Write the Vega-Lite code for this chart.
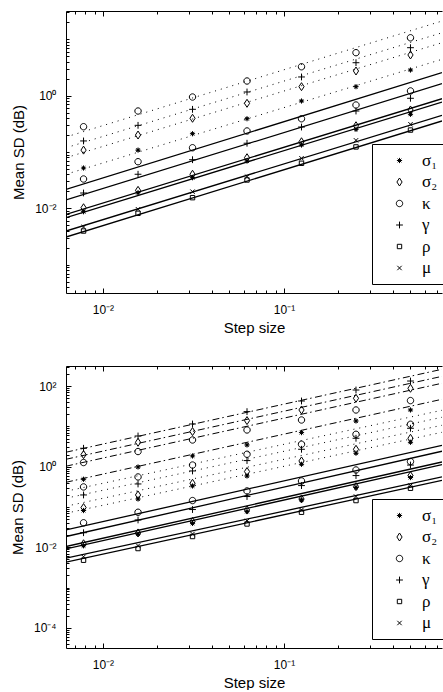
{
"$schema": "https://vega.github.io/schema/vega-lite/v6.json",
"padding": {"left": 10, "top": 6, "right": 0, "bottom": 0},
"background": "white",
"spacing": 25,
"config": {
  "view": {"stroke": null},
  "axis": {"grid": false, "domainColor": "black", "domainWidth": 1, "tickColor": "black", "tickWidth": 1, "labelColor": "black", "titleColor": "black", "labelFont": "Liberation Sans", "titleFont": "Liberation Sans", "labelFontSize": 12, "titleFontSize": 15, "titleFontWeight": "normal", "labelFlush": false, "labelOverlap": false, "labelBound": false}
},
"datasets": {
  "pa": [
    {"h":0.0078125,"sd":0.281,"p":"κ"},{"h":0.015625,"sd":0.533,"p":"κ"},{"h":0.03125,"sd":0.944,"p":"κ"},{"h":0.0625,"sd":1.815,"p":"κ"},{"h":0.125,"sd":3.25,"p":"κ"},{"h":0.25,"sd":5.77,"p":"κ"},{"h":0.5,"sd":10.6,"p":"κ"},
    {"h":0.0078125,"sd":0.157,"p":"γ"},{"h":0.015625,"sd":0.297,"p":"γ"},{"h":0.03125,"sd":0.571,"p":"γ"},{"h":0.0625,"sd":1.159,"p":"γ"},{"h":0.125,"sd":2.14,"p":"γ"},{"h":0.25,"sd":3.83,"p":"γ"},{"h":0.5,"sd":7.07,"p":"γ"},
    {"h":0.0078125,"sd":0.108,"p":"σ₂"},{"h":0.015625,"sd":0.2,"p":"σ₂"},{"h":0.03125,"sd":0.396,"p":"σ₂"},{"h":0.0625,"sd":0.73,"p":"σ₂"},{"h":0.125,"sd":1.44,"p":"σ₂"},{"h":0.25,"sd":2.73,"p":"σ₂"},{"h":0.5,"sd":5.25,"p":"σ₂"},
    {"h":0.0078125,"sd":0.052,"p":"σ₁"},{"h":0.015625,"sd":0.108,"p":"σ₁"},{"h":0.03125,"sd":0.211,"p":"σ₁"},{"h":0.0625,"sd":0.389,"p":"σ₁"},{"h":0.125,"sd":0.802,"p":"σ₁"},{"h":0.25,"sd":1.44,"p":"σ₁"},{"h":0.5,"sd":2.84,"p":"σ₁"},
    {"h":0.0078125,"sd":0.0332,"p":"κ"},{"h":0.015625,"sd":0.0673,"p":"κ"},{"h":0.03125,"sd":0.119,"p":"κ"},{"h":0.0625,"sd":0.236,"p":"κ"},{"h":0.125,"sd":0.389,"p":"κ"},{"h":0.25,"sd":0.681,"p":"κ"},{"h":0.5,"sd":1.21,"p":"κ"},
    {"h":0.0078125,"sd":0.01875,"p":"γ"},{"h":0.015625,"sd":0.0403,"p":"γ"},{"h":0.03125,"sd":0.073,"p":"γ"},{"h":0.0625,"sd":0.143,"p":"γ"},{"h":0.125,"sd":0.277,"p":"γ"},{"h":0.25,"sd":0.533,"p":"γ"},{"h":0.5,"sd":0.896,"p":"γ"},
    {"h":0.0078125,"sd":0.01028,"p":"σ₂"},{"h":0.015625,"sd":0.0209,"p":"σ₂"},{"h":0.03125,"sd":0.0403,"p":"σ₂"},{"h":0.0625,"sd":0.0792,"p":"σ₂"},{"h":0.125,"sd":0.152,"p":"σ₂"},{"h":0.25,"sd":0.292,"p":"σ₂"},{"h":0.5,"sd":0.556,"p":"σ₂"},
    {"h":0.0078125,"sd":0.00873,"p":"σ₁"},{"h":0.015625,"sd":0.019,"p":"σ₁"},{"h":0.03125,"sd":0.035,"p":"σ₁"},{"h":0.0625,"sd":0.0692,"p":"σ₁"},{"h":0.125,"sd":0.133,"p":"σ₁"},{"h":0.25,"sd":0.252,"p":"σ₁"},{"h":0.5,"sd":0.466,"p":"σ₁"},
    {"h":0.0078125,"sd":0.00468,"p":"μ"},{"h":0.015625,"sd":0.00964,"p":"μ"},{"h":0.03125,"sd":0.0198,"p":"μ"},{"h":0.0625,"sd":0.0365,"p":"μ"},{"h":0.125,"sd":0.0773,"p":"μ"},{"h":0.25,"sd":0.161,"p":"μ"},{"h":0.5,"sd":0.31,"p":"μ"},
    {"h":0.0078125,"sd":0.00397,"p":"ρ"},{"h":0.015625,"sd":0.00818,"p":"ρ"},{"h":0.03125,"sd":0.0155,"p":"ρ"},{"h":0.0625,"sd":0.0319,"p":"ρ"},{"h":0.125,"sd":0.0631,"p":"ρ"},{"h":0.25,"sd":0.123,"p":"ρ"},{"h":0.5,"sd":0.245,"p":"ρ"}
  ],
  "la": [
    {"id":"s-κ","st":"solid","h":0.00625,"sd":0.0218},{"id":"s-κ","st":"solid","h":0.7466,"sd":2.55},
    {"id":"s-γ","st":"solid","h":0.00625,"sd":0.0141},{"id":"s-γ","st":"solid","h":0.7466,"sd":1.63},
    {"id":"s-σ₂","st":"solid","h":0.00625,"sd":0.00785},{"id":"s-σ₂","st":"solid","h":0.7466,"sd":0.881},
    {"id":"s-σ₁","st":"solid","h":0.00625,"sd":0.00684},{"id":"s-σ₁","st":"solid","h":0.7466,"sd":0.77},
    {"id":"s-μ","st":"solid","h":0.00625,"sd":0.00397},{"id":"s-μ","st":"solid","h":0.7466,"sd":0.448},
    {"id":"s-ρ","st":"solid","h":0.00625,"sd":0.00311},{"id":"s-ρ","st":"solid","h":0.7466,"sd":0.355},
    {"id":"d-κ","st":"dotted","h":0.00625,"sd":0.1845},{"id":"d-κ","st":"dotted","h":0.7466,"sd":21.0},
    {"id":"d-γ","st":"dotted","h":0.00625,"sd":0.119},{"id":"d-γ","st":"dotted","h":0.7466,"sd":13.0},
    {"id":"d-σ₂","st":"dotted","h":0.00625,"sd":0.0792},{"id":"d-σ₂","st":"dotted","h":0.7466,"sd":8.67},
    {"id":"d-σ₁","st":"dotted","h":0.00625,"sd":0.0403},{"id":"d-σ₁","st":"dotted","h":0.7466,"sd":4.4}
  ],
  "pb": [
    {"h":0.0078125,"sd":2.87,"p":"γ"},{"h":0.015625,"sd":5.79,"p":"γ"},{"h":0.03125,"sd":11.5,"p":"γ"},{"h":0.0625,"sd":23.3,"p":"γ"},{"h":0.125,"sd":42.8,"p":"γ"},{"h":0.25,"sd":80.2,"p":"γ"},{"h":0.5,"sd":134,"p":"γ"},
    {"h":0.0078125,"sd":2.0,"p":"σ₂"},{"h":0.015625,"sd":4.04,"p":"σ₂"},{"h":0.03125,"sd":7.45,"p":"σ₂"},{"h":0.0625,"sd":13.96,"p":"σ₂"},{"h":0.125,"sd":25.6,"p":"σ₂"},{"h":0.25,"sd":50.0,"p":"σ₂"},{"h":0.5,"sd":88.5,"p":"σ₂"},
    {"h":0.0078125,"sd":1.27,"p":"κ"},{"h":0.015625,"sd":2.38,"p":"κ"},{"h":0.03125,"sd":4.61,"p":"κ"},{"h":0.0625,"sd":8.17,"p":"κ"},{"h":0.125,"sd":14.45,"p":"κ"},{"h":0.25,"sd":25.6,"p":"κ"},{"h":0.5,"sd":43.8,"p":"κ"},
    {"h":0.0078125,"sd":0.489,"p":"σ₁"},{"h":0.015625,"sd":0.986,"p":"σ₁"},{"h":0.03125,"sd":1.85,"p":"σ₁"},{"h":0.0625,"sd":3.47,"p":"σ₁"},{"h":0.125,"sd":7.03,"p":"σ₁"},{"h":0.25,"sd":13.65,"p":"σ₁"},{"h":0.5,"sd":25.6,"p":"σ₁"},
    {"h":0.0078125,"sd":0.315,"p":"κ"},{"h":0.015625,"sd":0.557,"p":"κ"},{"h":0.03125,"sd":1.1,"p":"κ"},{"h":0.0625,"sd":2.04,"p":"κ"},{"h":0.125,"sd":3.61,"p":"κ"},{"h":0.25,"sd":6.38,"p":"κ"},{"h":0.5,"sd":11.3,"p":"κ"},
    {"h":0.0078125,"sd":0.199,"p":"γ"},{"h":0.015625,"sd":0.373,"p":"γ"},{"h":0.03125,"sd":0.785,"p":"γ"},{"h":0.0625,"sd":1.42,"p":"γ"},{"h":0.125,"sd":2.71,"p":"γ"},{"h":0.25,"sd":5.08,"p":"γ"},{"h":0.5,"sd":9.0,"p":"γ"},
    {"h":0.0078125,"sd":0.0968,"p":"σ₂"},{"h":0.015625,"sd":0.199,"p":"σ₂"},{"h":0.03125,"sd":0.388,"p":"σ₂"},{"h":0.0625,"sd":0.759,"p":"σ₂"},{"h":0.125,"sd":1.39,"p":"σ₂"},{"h":0.25,"sd":2.71,"p":"σ₂"},{"h":0.5,"sd":5.08,"p":"σ₂"},
    {"h":0.0078125,"sd":0.0817,"p":"σ₁"},{"h":0.015625,"sd":0.158,"p":"σ₁"},{"h":0.03125,"sd":0.333,"p":"σ₁"},{"h":0.0625,"sd":0.589,"p":"σ₁"},{"h":0.125,"sd":1.15,"p":"σ₁"},{"h":0.25,"sd":2.16,"p":"σ₁"},{"h":0.5,"sd":4.04,"p":"σ₁"},
    {"h":0.0078125,"sd":0.0406,"p":"κ"},{"h":0.015625,"sd":0.0741,"p":"κ"},{"h":0.03125,"sd":0.1445,"p":"κ"},{"h":0.0625,"sd":0.25,"p":"κ"},{"h":0.125,"sd":0.443,"p":"κ"},{"h":0.25,"sd":0.83,"p":"κ"},{"h":0.5,"sd":1.34,"p":"κ"},
    {"h":0.0078125,"sd":0.023,"p":"γ"},{"h":0.015625,"sd":0.0477,"p":"γ"},{"h":0.03125,"sd":0.0865,"p":"γ"},{"h":0.0625,"sd":0.182,"p":"γ"},{"h":0.125,"sd":0.34,"p":"γ"},{"h":0.25,"sd":0.603,"p":"γ"},{"h":0.5,"sd":1.1,"p":"γ"},
    {"h":0.0078125,"sd":0.01225,"p":"σ₂"},{"h":0.015625,"sd":0.0227,"p":"σ₂"},{"h":0.03125,"sd":0.0436,"p":"σ₂"},{"h":0.0625,"sd":0.0845,"p":"σ₂"},{"h":0.125,"sd":0.158,"p":"σ₂"},{"h":0.25,"sd":0.321,"p":"σ₂"},{"h":0.5,"sd":0.603,"p":"σ₂"},
    {"h":0.0078125,"sd":0.0109,"p":"σ₁"},{"h":0.015625,"sd":0.0211,"p":"σ₁"},{"h":0.03125,"sd":0.0395,"p":"σ₁"},{"h":0.0625,"sd":0.0771,"p":"σ₁"},{"h":0.125,"sd":0.15,"p":"σ₁"},{"h":0.25,"sd":0.304,"p":"σ₁"},{"h":0.5,"sd":0.538,"p":"σ₁"},
    {"h":0.0078125,"sd":0.00583,"p":"μ"},{"h":0.015625,"sd":0.011,"p":"μ"},{"h":0.03125,"sd":0.0214,"p":"μ"},{"h":0.0625,"sd":0.0451,"p":"μ"},{"h":0.125,"sd":0.0845,"p":"μ"},{"h":0.25,"sd":0.182,"p":"μ"},{"h":0.5,"sd":0.34,"p":"μ"},
    {"h":0.0078125,"sd":0.00477,"p":"ρ"},{"h":0.015625,"sd":0.00931,"p":"ρ"},{"h":0.03125,"sd":0.0185,"p":"ρ"},{"h":0.0625,"sd":0.0379,"p":"ρ"},{"h":0.125,"sd":0.0741,"p":"ρ"},{"h":0.25,"sd":0.1445,"p":"ρ"},{"h":0.5,"sd":0.292,"p":"ρ"}
  ],
  "lb": [
    {"id":"a-γ","st":"dashdot","h":0.00625,"sd":2.29},{"id":"a-γ","st":"dashdot","h":0.7466,"sd":262},
    {"id":"a-σ₂","st":"dashdot","h":0.00625,"sd":1.53},{"id":"a-σ₂","st":"dashdot","h":0.7466,"sd":175},
    {"id":"a-κ","st":"dashdot","h":0.00625,"sd":1.03},{"id":"a-κ","st":"dashdot","h":0.7466,"sd":118},
    {"id":"a-σ₁","st":"dashdot","h":0.00625,"sd":0.411},{"id":"a-σ₁","st":"dashdot","h":0.7466,"sd":47.2},
    {"id":"d-κ","st":"dotted","h":0.00625,"sd":0.246},{"id":"d-κ","st":"dotted","h":0.7466,"sd":25.2},
    {"id":"d-γ","st":"dotted","h":0.00625,"sd":0.165},{"id":"d-γ","st":"dotted","h":0.7466,"sd":16.9},
    {"id":"d-σ₂","st":"dotted","h":0.00625,"sd":0.1045},{"id":"d-σ₂","st":"dotted","h":0.7466,"sd":10.7},
    {"id":"d-σ₁","st":"dotted","h":0.00625,"sd":0.07},{"id":"d-σ₁","st":"dotted","h":0.7466,"sd":7.16},
    {"id":"s-κ","st":"solid","h":0.00625,"sd":0.027},{"id":"s-κ","st":"solid","h":0.7466,"sd":3.4},
    {"id":"s-γ","st":"solid","h":0.00625,"sd":0.0185},{"id":"s-γ","st":"solid","h":0.7466,"sd":2.42},
    {"id":"s-σ₂","st":"solid","h":0.00625,"sd":0.01045},{"id":"s-σ₂","st":"solid","h":0.7466,"sd":1.31},
    {"id":"s-σ₁","st":"solid","h":0.00625,"sd":0.0091},{"id":"s-σ₁","st":"solid","h":0.7466,"sd":1.13},
    {"id":"s-μ","st":"solid","h":0.00625,"sd":0.00535},{"id":"s-μ","st":"solid","h":0.7466,"sd":0.557},
    {"id":"s-ρ","st":"solid","h":0.00625,"sd":0.00426},{"id":"s-ρ","st":"solid","h":0.7466,"sd":0.461}
  ]
},
"resolve": {"scale": {"x": "independent", "y": "independent", "shape": "independent", "strokeDash": "independent"}, "legend": {"shape": "independent"}},
"vconcat": [
  {
    "width": 376, "height": 282,
    "resolve": {"axis": {"x": "independent"}},
    "layer": [
      {
        "data": {"name": "la"},
        "transform": [{"filter": "datum.st == 'solid'"}],
        "mark": {"type": "line", "color": "black", "strokeWidth": 1.3, "clip": true},
        "encoding": {
          "x": {"field": "h", "type": "quantitative", "scale": {"type": "log", "domain": [0.00625, 0.7466], "nice": false},
                "axis": {"orient": "bottom", "values": [0.007,0.008,0.009,0.01,0.02,0.03,0.04,0.05,0.06,0.07,0.08,0.09,0.1,0.2,0.3,0.4,0.5,0.6,0.7],
                         "labelExpr": "datum.value == 0.01 ? '10⁻²' : datum.value == 0.1 ? '10⁻¹' : ''",
                         "tickSize": {"condition": {"test": "datum.value == 0.01 || datum.value == 0.1", "value": -5}, "value": -3},
                         "labelPadding": 16, "title": "Step size", "titlePadding": 3}},
          "y": {"field": "sd", "type": "quantitative", "scale": {"type": "log", "domain": [0.00031623, 31.623], "nice": false},
                "axis": {"orient": "left", "values": [0.0004,0.0005,0.0006,0.0007,0.0008,0.0009,0.001,0.002,0.003,0.004,0.005,0.006,0.007,0.008,0.009,0.01,0.02,0.03,0.04,0.05,0.06,0.07,0.08,0.09,0.1,0.2,0.3,0.4,0.5,0.6,0.7,0.8,0.9,1,2,3,4,5,6,7,8,9,10,20,30],
                         "labelExpr": "datum.value == 0.01 ? '10⁻²' : datum.value == 1 ? '10⁰' : ''",
                         "tickSize": {"condition": {"test": "datum.value == 0.01 || datum.value == 1", "value": -5}, "value": -3},
                         "labelPadding": 15, "title": "Mean SD (dB)", "titlePadding": 8}},
          "detail": {"field": "id"}
        }
      },
      {
        "data": {"name": "la"},
        "transform": [{"filter": "datum.st != 'solid'"}],
        "mark": {"type": "line", "color": "black", "strokeWidth": 1, "clip": true},
        "encoding": {
          "x": {"field": "h", "type": "quantitative", "scale": {"type": "log", "domain": [0.00625, 0.7466], "nice": false}, "axis": null},
          "y": {"field": "sd", "type": "quantitative", "scale": {"type": "log", "domain": [0.00031623, 31.623], "nice": false}},
          "detail": {"field": "id"},
          "strokeDash": {"field": "st", "type": "nominal", "scale": {"domain": ["dotted", "dashdot"], "range": [[1, 5], [7, 3, 1.5, 3.5]]}, "legend": null}
        }
      },
      {
        "data": {"name": "pa"},
        "mark": {"type": "point", "filled": false, "color": "black", "strokeWidth": 1, "size": 64, "opacity": 1, "clip": true},
        "encoding": {
          "x": {"field": "h", "type": "quantitative", "scale": {"type": "log", "domain": [0.00625, 0.7466], "nice": false},
                "axis": {"orient": "top", "values": [0.007,0.008,0.009,0.01,0.02,0.03,0.04,0.05,0.06,0.07,0.08,0.09,0.1,0.2,0.3,0.4,0.5,0.6,0.7], "labels": false, "title": null,
                         "tickSize": {"condition": {"test": "datum.value == 0.01 || datum.value == 0.1", "value": -5}, "value": -3}}},
          "y": {"field": "sd", "type": "quantitative", "scale": {"type": "log", "domain": [0.00031623, 31.623], "nice": false}},
          "shape": {"field": "p", "type": "nominal",
                    "scale": {"domain": ["σ₁", "σ₂", "κ", "γ", "ρ", "μ"],
                              "range": ["M-0.65,0L0.65,0M0,-0.65L0,0.65M-0.46,-0.46L0.46,0.46M-0.46,0.46L0.46,-0.46M0.3,0A0.3,0.3,0,1,1,-0.3,0A0.3,0.3,0,1,1,0.3,0Z", "M0,-1L0.65,0L0,1L-0.65,0Z", "M0.8,0A0.8,0.8,0,1,1,-0.8,0A0.8,0.8,0,1,1,0.8,0Z", "M-0.85,0L0.85,0M0,-0.85L0,0.85", "M-0.55,-0.55L0.55,-0.55L0.55,0.55L-0.55,0.55Z", "M-0.55,-0.55L0.55,0.55M-0.55,0.55L0.55,-0.55"]},
                    "legend": {"orient": "none", "legendX": 306, "legendY": 133, "title": null, "strokeColor": "black", "fillColor": "white", "padding": 8, "symbolOffset": 11, "labelOffset": 14, "rowPadding": 3.5, "labelFont": "Liberation Serif", "labelFontSize": 17, "labelColor": "black", "symbolSize": 64, "symbolStrokeColor": "black", "symbolStrokeWidth": 1, "symbolFillColor": "transparent"}}
        }
      }
    ]
  },
  {
    "width": 376, "height": 282,
    "resolve": {"axis": {"x": "independent"}},
    "layer": [
      {
        "data": {"name": "lb"},
        "transform": [{"filter": "datum.st == 'solid'"}],
        "mark": {"type": "line", "color": "black", "strokeWidth": 1.3, "clip": true},
        "encoding": {
          "x": {"field": "h", "type": "quantitative", "scale": {"type": "log", "domain": [0.00625, 0.7466], "nice": false},
                "axis": {"orient": "bottom", "values": [0.007,0.008,0.009,0.01,0.02,0.03,0.04,0.05,0.06,0.07,0.08,0.09,0.1,0.2,0.3,0.4,0.5,0.6,0.7],
                         "labelExpr": "datum.value == 0.01 ? '10⁻²' : datum.value == 0.1 ? '10⁻¹' : ''",
                         "tickSize": {"condition": {"test": "datum.value == 0.01 || datum.value == 0.1", "value": -5}, "value": -3},
                         "labelPadding": 16, "title": "Step size", "titlePadding": 3}},
          "y": {"field": "sd", "type": "quantitative", "scale": {"type": "log", "domain": [0.000031623, 316.23], "nice": false},
                "axis": {"orient": "left", "values": [0.00004,0.00005,0.00006,0.00007,0.00008,0.00009,0.0001,0.0002,0.0003,0.0004,0.0005,0.0006,0.0007,0.0008,0.0009,0.001,0.002,0.003,0.004,0.005,0.006,0.007,0.008,0.009,0.01,0.02,0.03,0.04,0.05,0.06,0.07,0.08,0.09,0.1,0.2,0.3,0.4,0.5,0.6,0.7,0.8,0.9,1,2,3,4,5,6,7,8,9,10,20,30,40,50,60,70,80,90,100,200,300],
                         "labelExpr": "datum.value == 0.0001 ? '10⁻⁴' : datum.value == 0.01 ? '10⁻²' : datum.value == 1 ? '10⁰' : datum.value == 100 ? '10²' : ''",
                         "tickSize": {"condition": {"test": "datum.value == 0.0001 || datum.value == 0.01 || datum.value == 1 || datum.value == 100", "value": -5}, "value": -3},
                         "labelPadding": 15, "title": "Mean SD (dB)", "titlePadding": 8}},
          "detail": {"field": "id"}
        }
      },
      {
        "data": {"name": "lb"},
        "transform": [{"filter": "datum.st != 'solid'"}],
        "mark": {"type": "line", "color": "black", "strokeWidth": 1, "clip": true},
        "encoding": {
          "x": {"field": "h", "type": "quantitative", "scale": {"type": "log", "domain": [0.00625, 0.7466], "nice": false}, "axis": null},
          "y": {"field": "sd", "type": "quantitative", "scale": {"type": "log", "domain": [0.000031623, 316.23], "nice": false}},
          "detail": {"field": "id"},
          "strokeDash": {"field": "st", "type": "nominal", "scale": {"domain": ["dotted", "dashdot"], "range": [[1, 5], [7, 3, 1.5, 3.5]]}, "legend": null}
        }
      },
      {
        "data": {"name": "pb"},
        "mark": {"type": "point", "filled": false, "color": "black", "strokeWidth": 1, "size": 64, "opacity": 1, "clip": true},
        "encoding": {
          "x": {"field": "h", "type": "quantitative", "scale": {"type": "log", "domain": [0.00625, 0.7466], "nice": false},
                "axis": {"orient": "top", "values": [0.007,0.008,0.009,0.01,0.02,0.03,0.04,0.05,0.06,0.07,0.08,0.09,0.1,0.2,0.3,0.4,0.5,0.6,0.7], "labels": false, "title": null,
                         "tickSize": {"condition": {"test": "datum.value == 0.01 || datum.value == 0.1", "value": -5}, "value": -3}}},
          "y": {"field": "sd", "type": "quantitative", "scale": {"type": "log", "domain": [0.000031623, 316.23], "nice": false}},
          "shape": {"field": "p", "type": "nominal",
                    "scale": {"domain": ["σ₁", "σ₂", "κ", "γ", "ρ", "μ"],
                              "range": ["M-0.65,0L0.65,0M0,-0.65L0,0.65M-0.46,-0.46L0.46,0.46M-0.46,0.46L0.46,-0.46M0.3,0A0.3,0.3,0,1,1,-0.3,0A0.3,0.3,0,1,1,0.3,0Z", "M0,-1L0.65,0L0,1L-0.65,0Z", "M0.8,0A0.8,0.8,0,1,1,-0.8,0A0.8,0.8,0,1,1,0.8,0Z", "M-0.85,0L0.85,0M0,-0.85L0,0.85", "M-0.55,-0.55L0.55,-0.55L0.55,0.55L-0.55,0.55Z", "M-0.55,-0.55L0.55,0.55M-0.55,0.55L0.55,-0.55"]},
                    "legend": {"orient": "none", "legendX": 306, "legendY": 133, "title": null, "strokeColor": "black", "fillColor": "white", "padding": 8, "symbolOffset": 11, "labelOffset": 14, "rowPadding": 3.5, "labelFont": "Liberation Serif", "labelFontSize": 17, "labelColor": "black", "symbolSize": 64, "symbolStrokeColor": "black", "symbolStrokeWidth": 1, "symbolFillColor": "transparent"}}
        }
      }
    ]
  }
]
}
